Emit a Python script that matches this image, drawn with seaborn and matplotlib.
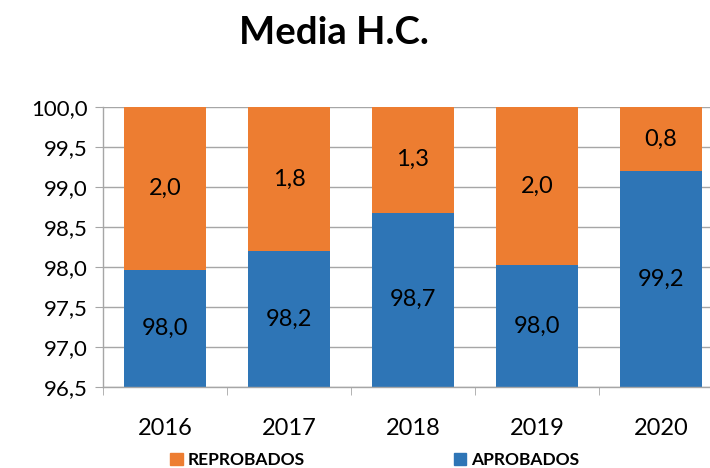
import numpy as np
import pandas as pd
import matplotlib
matplotlib.use("Agg")
import matplotlib.pyplot as plt
from matplotlib.ticker import FuncFormatter, MultipleLocator
from matplotlib.patches import Patch
import seaborn as sns

years = ["2016", "2017", "2018", "2019", "2020"]
aprobados = [97.96, 98.20, 98.68, 98.02, 99.20]
reprobados = [2.04, 1.80, 1.32, 1.98, 0.80]

c_aprob = "#2E75B6"
c_reprob = "#ED7D31"

sns.set_style("white")
plt.rcParams["font.family"] = ["Lato", "DejaVu Sans"]
plt.rcParams["text.color"] = "black"
plt.rcParams["xtick.color"] = "black"
plt.rcParams["ytick.color"] = "black"

df = pd.DataFrame({"anio": years, "aprob": aprobados, "reprob": reprobados})
df["total"] = df["aprob"] + df["reprob"]

fig = plt.figure(figsize=(7.1, 4.68), dpi=100)
ax = fig.add_axes([103 / 710, 81 / 468, 620 / 710, 280 / 468])

# barra completa naranja, azul encima
sns.barplot(data=df, x="anio", y="total", color=c_reprob, saturation=1, width=0.656, linewidth=0, ax=ax)
sns.barplot(data=df, x="anio", y="aprob", color=c_aprob, saturation=1, width=0.656, linewidth=0, ax=ax)

ymin = 96.5
ax.set_ylim(ymin, 100)
ax.set_xlim(-0.5, 4.5)
ax.yaxis.set_major_locator(MultipleLocator(0.5))
ax.yaxis.set_major_formatter(FuncFormatter(lambda v, p: f"{v:.1f}".replace(".", ",")))
ax.set_xlabel("")
ax.set_ylabel("")

ax.set_axisbelow(True)
ax.grid(axis="y", color="#A6A6A6", linewidth=1)
for s in ["top", "right"]:
    ax.spines[s].set_visible(False)
for s in ["left", "bottom"]:
    ax.spines[s].set_color("#A6A6A6")
    ax.spines[s].set_linewidth(1)

ax.tick_params(axis="y", labelsize=16, length=6, color="#A6A6A6", labelcolor="black", pad=5, left=True)
ax.set_xticks(range(len(years)))
ax.set_xticklabels(years)
ax.tick_params(axis="x", labelsize=17, length=0, pad=22, labelcolor="black")
# marcas entre categorias
ax.set_xticks(np.arange(-0.5, len(years), 1), minor=True)
ax.tick_params(axis="x", which="minor", length=6, color="#A6A6A6", bottom=True)

for i in range(len(years)):
    a = df["aprob"][i]
    r = df["reprob"][i]
    ax.text(i, (ymin + a) / 2, f"{a:.1f}".replace(".", ","), ha="center", va="center", fontsize=17)
    ax.text(i, a + r / 2, f"{r:.1f}".replace(".", ","), ha="center", va="center", fontsize=17)

fig.text(334 / 710, 1 - 33 / 468, "Media H.C.", ha="center", va="center", fontsize=27.5, fontweight="bold")

handles = [Patch(color=c_reprob, label="REPROBADOS"), Patch(color=c_aprob, label="APROBADOS")]
leg = fig.legend(handles=handles, loc="center", bbox_to_anchor=(375 / 710, 1 - 460 / 468), ncol=2,
                 frameon=False, handlelength=0.7, handleheight=0.7, handletextpad=0.3,
                 columnspacing=8.6, prop={"size": 12.5, "weight": "bold"})

fig.savefig("out.png", dpi=100)
